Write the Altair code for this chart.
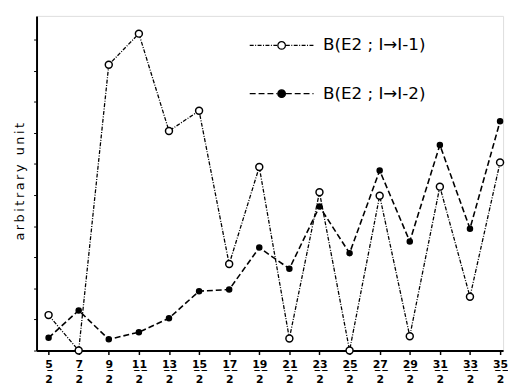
import altair as alt
import pandas as pd

# Spin values I (in units of hbar), plotted as 5/2 ... 35/2
spins = [2.5, 3.5, 4.5, 5.5, 6.5, 7.5, 8.5, 9.5, 10.5, 11.5, 12.5, 13.5, 14.5, 15.5, 16.5, 17.5]
# B(E2; I -> I-1), arbitrary units (open circles)
b_minus1 = [1.14, 0.0, 9.19, 10.19, 7.06, 7.71, 2.78, 5.90, 0.39, 5.09, 0.0, 4.98, 0.46, 5.27, 1.73, 6.05]
# B(E2; I -> I-2), arbitrary units (filled circles)
b_minus2 = [0.41, 1.29, 0.36, 0.59, 1.04, 1.91, 1.96, 3.31, 2.63, 4.63, 3.13, 5.79, 3.51, 6.61, 3.92, 7.37]
series_names = ["B(E2 ; I→I-1)", "B(E2 ; I→I-2)"]
marker_keys = ["open", "filled"]
y_ticks = [0, 1, 2, 3, 4, 5, 6, 7, 8, 9, 10]
thin = "\u2009"
y_title = thin.join("arbitrary") + thin + "   " + thin + thin.join("unit")

rows = []
for j, a, b in zip(spins, b_minus1, b_minus2):
    rows.append({"J": j, "value": a, "series": series_names[0], "marker": marker_keys[0]})
    rows.append({"J": j, "value": b, "series": series_names[1], "marker": marker_keys[1]})
df = pd.DataFrame(rows)

line_path = "M-1.35,0H-0.18M0.18,0H1.35"
circle_path = "M-0.16,0A0.16,0.16 0 1,1 0.16,0A0.16,0.16 0 1,1 -0.16,0Z"

label_font = "DejaVu Sans"
under = "\u0332"
label_expr = "[join(split(toString(datum.value*2),''),'" + under + "') + '" + under + "', '2']"

x_enc = alt.X(
    "J:Q",
    scale=alt.Scale(domain=[2.1, 17.6], nice=False, zero=False),
    axis=alt.Axis(
        values=spins, labelExpr=label_expr, title=None, grid=False,
        domainColor="black", domainWidth=2, tickColor="black", tickWidth=1.5,
        tickSize=4, labelPadding=4, labelFont=label_font, labelFontSize=11,
        labelFontWeight="bold", labelColor="black", labelLineHeight=15,
        labelBaseline="top", labelFlush=False, labelOverlap=False,
    ),
)
y_enc = alt.Y(
    "value:Q",
    scale=alt.Scale(domain=[0, 10.76], nice=False),
    axis=alt.Axis(
        values=y_ticks, labels=False, title=y_title, grid=False,
        domainColor="black", domainWidth=2, tickColor="black", tickWidth=1,
        tickSize=3, titleFont="DejaVu Sans", titleFontSize=13,
        titleFontWeight="normal", titleColor="black", titleX=-17, titleY=168,
        titleBaseline="middle", titleAngle=-90, titleAlign="center",
    ),
)

dash_legend = alt.Legend(
    title=None, orient="none", legendX=224, legendY=5,
    symbolType=line_path, symbolSize=2304, symbolStrokeColor="black",
    symbolStrokeWidth=1.3, labelFont=label_font, labelFontSize=17,
    labelColor="black", labelOffset=17, rowPadding=16, padding=0,
)
fill_legend = alt.Legend(
    title=None, orient="none", legendX=224, legendY=5,
    symbolType=circle_path, symbolSize=2304, symbolStrokeColor="black",
    symbolStrokeWidth=1.3, symbolOpacity=1, labelFont=label_font, labelFontSize=17,
    labelExpr="''", labelOffset=17, rowPadding=16, padding=0,
)
dash_enc = alt.StrokeDash(
    "series:N", scale=alt.Scale(domain=series_names, range=[[4, 1.5, 1, 1.5], [6, 3]]),
    legend=dash_legend,
)
fill_enc = alt.Fill(
    "marker:N", scale=alt.Scale(domain=marker_keys, range=["white", "black"]),
    legend=fill_legend,
)

base = alt.Chart(df).encode(x=x_enc, y=y_enc)

line1 = base.transform_filter(alt.datum.marker == marker_keys[0]).mark_line(
    color="black", strokeWidth=1.3).encode(strokeDash=dash_enc)
line2 = base.transform_filter(alt.datum.marker == marker_keys[1]).mark_line(
    color="black", strokeWidth=1.6).encode(strokeDash=dash_enc)
pts1 = base.transform_filter(alt.datum.marker == marker_keys[0]).mark_point(
    shape="circle", filled=False, stroke="black", strokeWidth=1.5, opacity=1, size=50
).encode(fill=fill_enc)
pts2 = base.transform_filter(alt.datum.marker == marker_keys[1]).mark_point(
    shape="circle", filled=False, stroke="black", strokeWidth=1.5, opacity=1, size=26
).encode(fill=fill_enc)

chart = (
    alt.layer(line1, line2, pts1, pts2)
    .properties(
        width=474, height=340, autosize="none",
        padding={"left": 29, "top": 5, "right": 5, "bottom": 34},
    )
    .configure_view(stroke=None)
    .configure(background="white")
)

chart.save("out.html", embed_options={"renderer": "svg", "actions": False})
